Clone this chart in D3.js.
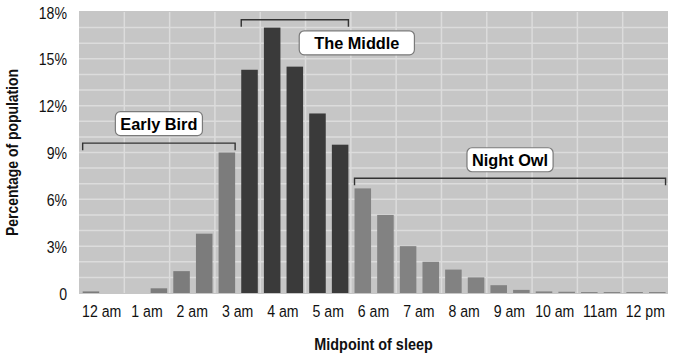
<!DOCTYPE html>
<html>
<head>
<meta charset="utf-8">
<script src="https://cdn.jsdelivr.net/npm/d3@7"></script>
<style>
  body { margin: 0; background: #fff; }
  svg text { font-family: "Liberation Sans", Arial, sans-serif; fill: #111; }
  .bold { font-weight: bold; }
</style>
</head>
<body>
<svg id="chart" width="675" height="355"></svg>
<script>
// half-hour slots of sleep midpoint
const slots = [
  "12:00 am", "12:30 am", "1:00 am", "1:30 am", "2:00 am", "2:30 am", "3:00 am", "3:30 am",
  "4:00 am", "4:30 am", "5:00 am", "5:30 am", "6:00 am", "6:30 am", "7:00 am", "7:30 am",
  "8:00 am", "8:30 am", "9:00 am", "9:30 am", "10:00 am", "10:30 am", "11:00 am", "11:30 am",
  "12:00 pm", "12:30 pm"
];
const hourLabels = ["12 am", "1 am", "2 am", "3 am", "4 am", "5 am", "6 am", "7 am", "8 am", "9 am", "10 am", "11am", "12 pm"];
const share = [0.1, 0, 0, 0.3, 1.4, 3.8, 9.0, 14.3, 17.0, 14.5, 11.5, 9.5, 6.7, 5.0, 3.0, 2.0, 1.5, 1.0, 0.5, 0.2, 0.1, 0.08, 0.06, 0.06, 0.06, 0.06];
const chronotype = [
  "early", "early", "early", "early", "early", "early", "early",
  "middle", "middle", "middle", "middle", "middle",
  "owl", "owl", "owl", "owl", "owl", "owl", "owl", "owl", "owl", "owl", "owl", "owl", "owl", "owl"
];
const yTicks = [0, 3, 6, 9, 12, 15, 18];

const svg = d3.select("#chart");
const margin = { top: 12, right: 7, bottom: 62, left: 79 };
const width = 675, height = 355;
const innerW = width - margin.left - margin.right;
const innerH = height - margin.top - margin.bottom;
const narrow = 0.83; // squeeze Liberation Sans to look like a condensed face

const g = svg.append("g").attr("transform", `translate(${margin.left},${margin.top})`);

const x = d3.scaleBand().domain(slots).range([0, innerW]).paddingInner(0.27).paddingOuter(0.135).align(0.6);
const xHour = d3.scaleBand().domain(hourLabels).range([0, innerW]);
const y = d3.scaleLinear().domain([0, 18]).range([innerH, 0]);

const color = { early: "#7c7c7c", middle: "#3a3a3a", owl: "#828282" };

// plot background
g.append("rect")
  .attr("x", 0).attr("y", -1)
  .attr("width", innerW).attr("height", innerH + 2)
  .attr("fill", "#c6c6c6");

// gridlines every 1%
g.append("g")
  .selectAll("line")
  .data(d3.range(1, 18))
  .enter()
  .append("line")
  .attr("x1", 0).attr("x2", innerW)
  .attr("y1", d => y(d)).attr("y2", d => y(d))
  .attr("stroke", "#dcdcdc")
  .attr("stroke-width", 1.5);

g.append("g")
  .selectAll("line")
  .data(hourLabels.slice(1))
  .enter()
  .append("line")
  .attr("x1", d => xHour(d)).attr("x2", d => xHour(d))
  .attr("y1", 0).attr("y2", innerH)
  .attr("stroke", "#dcdcdc")
  .attr("stroke-width", 1.5);

// bars
g.append("g")
  .selectAll("rect")
  .data(share)
  .enter()
  .append("rect")
  .attr("x", (d, i) => x(slots[i]))
  .attr("width", x.bandwidth())
  .attr("y", d => y(d))
  .attr("height", d => innerH - y(d))
  .attr("fill", (d, i) => color[chronotype[i]]);

// axes
const yAxis = g.append("g")
  .call(d3.axisLeft(y).tickValues(yTicks).tickSize(0).tickPadding(12)
    .tickFormat(d => d === 0 ? "0" : d + "%"));
yAxis.select(".domain").remove();
yAxis.selectAll("text")
  .style("font-size", "17px")
  .attr("dy", "0.36em")
  .attr("x", -12 / narrow)
  .attr("transform", `scale(${narrow},1)`);

const xAxis = g.append("g")
  .attr("transform", `translate(0,${innerH})`)
  .call(d3.axisBottom(xHour).tickSize(0).tickPadding(12));
xAxis.select(".domain").remove();
xAxis.selectAll("text")
  .style("font-size", "17px")
  .attr("transform", `scale(${narrow},1)`);

svg.append("text")
  .attr("class", "bold")
  .attr("transform", `translate(18,${margin.top + innerH / 2}) rotate(-90) scale(0.87,1)`)
  .attr("text-anchor", "middle")
  .style("font-size", "16px")
  .text("Percentage of population");

svg.append("text")
  .attr("class", "bold")
  .attr("transform", `translate(${margin.left + innerW / 2},350) scale(0.9,1)`)
  .attr("text-anchor", "middle")
  .style("font-size", "16px")
  .text("Midpoint of sleep");

// chronotype brackets and labels
const brackets = [
  { name: "Early Bird", first: "12:00 am", last: "3:00 am", level: 9.6, dx: 0, dy: -19.5, pad: 5 },
  { name: "The Middle", first: "3:30 am", last: "5:30 am", level: 17.5, dx: 62, dy: 23, pad: 15 },
  { name: "Night Owl", first: "6:00 am", last: "12:30 pm", level: 7.35, dx: 0, dy: -18.5, pad: 5 }
];

brackets.forEach(b => {
  const x0 = x(b.first), x1 = x(b.last) + x.bandwidth();
  const by = y(b.level);
  g.append("path")
    .attr("d", `M${x0},${by + 7}V${by}H${x1}V${by + 7}`)
    .attr("fill", "none")
    .attr("stroke", "#333")
    .attr("stroke-width", 1.4);

  const cx = (x0 + x1) / 2 + b.dx;
  const cy = by + b.dy;
  const label = g.append("g").attr("transform", `translate(${cx},${cy})`);
  const txt = label.append("text")
    .attr("class", "bold")
    .attr("text-anchor", "middle")
    .attr("dy", "0.36em")
    .attr("transform", "scale(0.96,1)")
    .style("font-size", "17px")
    .style("fill", "#000")
    .text(b.name);
  const w = txt.node().getComputedTextLength() * 0.96 + 2 * b.pad;
  label.insert("rect", "text")
    .attr("x", -w / 2).attr("y", -12)
    .attr("width", w).attr("height", 24)
    .attr("rx", 5)
    .attr("fill", "#fff")
    .attr("stroke", "#7a7a7a")
    .attr("stroke-width", 1.2);
});
</script>
</body>
</html>
